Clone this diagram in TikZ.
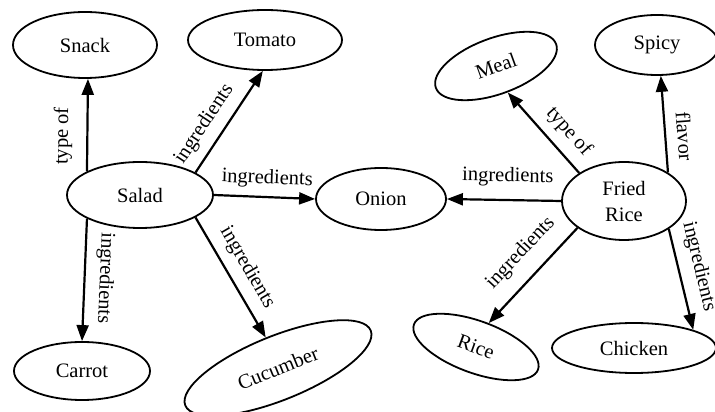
\documentclass[tikz,border=0pt]{standalone}
\usepackage{fontspec}
\setmainfont{Liberation Serif}
\usetikzlibrary{shapes.geometric,arrows.meta}
\begin{document}
\begin{tikzpicture}[x=1pt,y=1pt,
  concept/.style={ellipse, draw, line width=1.8pt, inner sep=0pt,
    font=\fontsize{20.5}{26}\selectfont, align=center},
  rel/.style={line width=2.2pt, -{Triangle[length=16pt,width=12pt]}},
  lbl/.style={sloped, anchor=south, inner sep=0pt, outer sep=#1,
    font=\fontsize{20.5}{24}\selectfont}]
\useasboundingbox (0,0) rectangle (715,412);

% concepts
\node[concept, minimum width=144pt, minimum height=66pt] (snack) at (85,367) {Snack};
\node[concept, minimum width=154pt, minimum height=60pt] (tomato) at (265,372) {Tomato};
\node[concept, minimum width=146pt, minimum height=66pt] (salad) at (140,217) {Salad};
\node[concept, minimum width=130pt, minimum height=62pt] (onion) at (381,213) {Onion};
\node[concept, minimum width=128pt, minimum height=56pt, rotate=20] (meal) at (496,346) {Meal};
\node[concept, minimum width=124pt, minimum height=60pt] (spicy) at (657,367) {Spicy};
\node[concept, minimum width=124pt, minimum height=78pt] (fried) at (624,211) {Fried\\Rice};
\node[concept, minimum width=136pt, minimum height=58pt] (carrot) at (82,41) {Carrot};
\node[concept, minimum width=200pt, minimum height=64pt, rotate=22] (cucumber) at (278,44) {Cucumber};
\node[concept, minimum width=132pt, minimum height=52pt, rotate=-20] (rice) at (476,65) {Rice};
\node[concept, minimum width=164pt, minimum height=50pt] (chicken) at (634,64) {Chicken};

% relations of Salad
\draw[rel] (salad.156) -- (snack.275)
  node[lbl=15pt, pos=0.38] (l1) {type of};
\draw[rel] (salad.22) -- (tomato.266)
  node[lbl=10pt, pos=0.37] (l2) {ingredients};
\draw[rel] (salad.east) -- (onion.west)
  node[lbl=9pt, pos=0.52] (l3) {ingredients};
\draw[rel] (salad.204) -- (carrot.90)
  node[lbl=11pt, pos=0.48, allow upside down] (l4) {ingredients};
\draw[rel] (salad.338) -- (cucumber.90)
  node[lbl=10pt, pos=0.5] (l5) {ingredients};

% relations of Fried Rice
\draw[rel] (fried.148) -- (meal.274)
  node[lbl=10pt, pos=0.35] (l6) {type of};
\draw[rel] (fried.33) -- (spicy.277)
  node[lbl=12pt, pos=0.36] (l7) {flavor};
\draw[rel] (fried.west) -- (onion.east)
  node[lbl=14pt, pos=0.47] (l8) {ingredients};
\draw[rel] (fried.210) -- (rice.82)
  node[lbl=15pt, pos=0.44] (l9) {ingredients};
\draw[rel] (fried.328) -- (chicken.17)
  node[lbl=11pt, pos=0.42] (l10) {ingredients};
\end{tikzpicture}
\end{document}
